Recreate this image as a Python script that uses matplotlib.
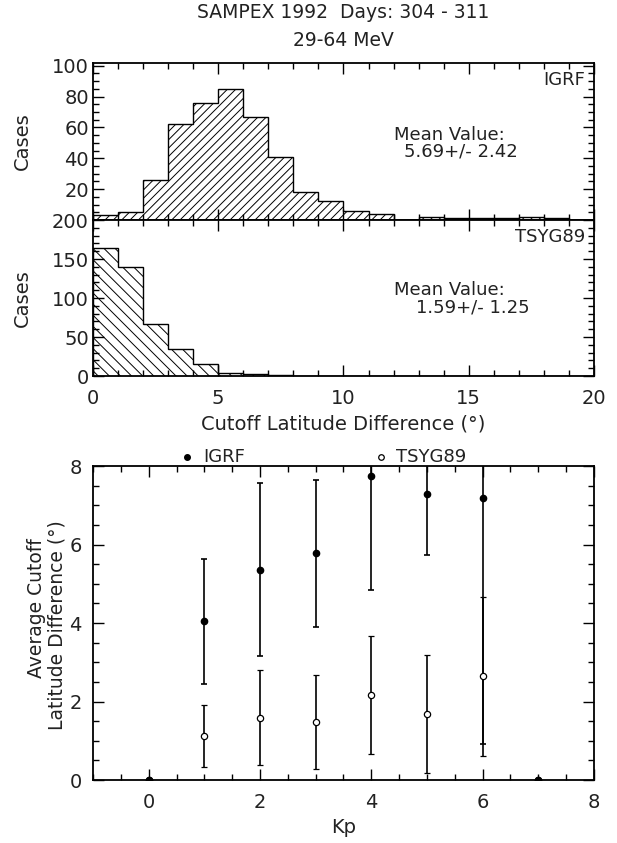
import matplotlib
matplotlib.use('Agg')
import matplotlib.pyplot as plt
import numpy as np
from matplotlib.ticker import MultipleLocator, NullFormatter

# histogram bins (degrees) and counts per bin
bin_edges = [0, 1, 2, 3, 4, 5, 6, 7, 8, 9, 10, 11, 12, 13, 14, 15, 16, 17, 18, 19, 20]
igrf_counts = [3, 5, 26, 62, 76, 85, 67, 41, 18, 12, 6, 4, 0, 2, 1, 1, 1, 2, 1, 0]
tsyg_counts = [164, 140, 67, 35, 15, 4, 2, 1, 0, 0, 0, 0, 0, 0, 0, 0, 0, 0, 0, 0]
igrf_mean_txt = '5.69+/- 2.42'
tsyg_mean_txt = '1.59+/- 1.25'

# average cutoff difference vs Kp
kp = [0, 1, 2, 3, 4, 5, 6, 7]
igrf_avg = [0, 4.04, 5.36, 5.78, 7.74, 7.28, 7.19, 0]
igrf_err = [0, 1.59, 2.21, 1.87, 2.90, 1.54, 6.27, 0]
tsyg_avg = [0, 1.12, 1.59, 1.48, 2.17, 1.68, 2.64, 0]
tsyg_err = [0, 0.79, 1.21, 1.20, 1.50, 1.50, 2.03, 0]

plt.rcParams['font.family'] = ['DejaVu Sans']
plt.rcParams['hatch.linewidth'] = 0.7
txt_color = '#222222'
W, H = 617.0, 843.0

fig = plt.figure(figsize=(6.17, 8.43), dpi=100)
ax1 = fig.add_axes([0.15073, 0.73903, 0.81199, 0.18660])
ax2 = fig.add_axes([0.15073, 0.55397, 0.81199, 0.18505])
ax3 = fig.add_axes([0.15073, 0.07473, 0.81199, 0.37248])


def style_axis(ax, pad):
    for s in ax.spines.values():
        s.set_linewidth(1.3)
    ax.tick_params(which='both', direction='in', top=True, right=True,
                   labelsize=14, labelcolor=txt_color, pad=pad)
    ax.tick_params(which='major', length=8, width=1)
    ax.tick_params(which='minor', length=4, width=1)


def pix_text(ax, x, y, s, **kw):
    # place text at a pixel position of the figure
    fig.text(x / W, 1 - y / H, s, color=txt_color, **kw)


# top histogram: IGRF
ax1.stairs(igrf_counts, bin_edges, fill=True, facecolor='white',
           edgecolor='black', hatch='////', linewidth=1)
ax1.set_xlim(0, 20)
ax1.set_ylim(0, 102)
ax1.xaxis.set_major_locator(MultipleLocator(5))
ax1.xaxis.set_minor_locator(MultipleLocator(1))
ax1.xaxis.set_major_formatter(NullFormatter())
ax1.yaxis.set_major_locator(MultipleLocator(20))
ax1.yaxis.set_minor_locator(MultipleLocator(5))
style_axis(ax1, 3)
ax1.set_yticks([20, 40, 60, 80, 100])
ax1.set_ylabel('Cases', fontsize=14, color=txt_color)
ax1.yaxis.set_label_coords(-0.122, 0.5)
ax1.text(0.982, 0.89, 'IGRF', transform=ax1.transAxes, ha='right',
         va='center', fontsize=13, color=txt_color)
pix_text(ax1, 394, 135, 'Mean Value:', ha='left', va='center', fontsize=13)
pix_text(ax1, 404, 152, igrf_mean_txt, ha='left', va='center', fontsize=13)

# middle histogram: TSYG89
ax2.stairs(tsyg_counts, bin_edges, fill=True, facecolor='white',
           edgecolor='black', hatch='\\\\\\', linewidth=1)
ax2.set_xlim(0, 20)
ax2.set_ylim(0, 200)
ax2.xaxis.set_major_locator(MultipleLocator(5))
ax2.xaxis.set_minor_locator(MultipleLocator(1))
ax2.yaxis.set_major_locator(MultipleLocator(50))
ax2.yaxis.set_minor_locator(MultipleLocator(10))
style_axis(ax2, 3)
ax2.tick_params(axis='x', pad=9)
ax2.set_ylabel('Cases', fontsize=14, color=txt_color)
ax2.yaxis.set_label_coords(-0.122, 0.5)
ax2.set_xlabel('Cutoff Latitude Difference (°)', fontsize=14,
               color=txt_color, labelpad=5)
ax2.text(0.982, 0.89, 'TSYG89', transform=ax2.transAxes, ha='right',
         va='center', fontsize=13, color=txt_color)
pix_text(ax2, 394, 290, 'Mean Value:', ha='left', va='center', fontsize=13)
pix_text(ax2, 416, 307, tsyg_mean_txt, ha='left', va='center', fontsize=13)

# bottom: average difference vs Kp
ax3.errorbar(kp, tsyg_avg, yerr=tsyg_err, fmt='o', mfc='white', mec='black',
             mew=0.9, ms=4.5, ecolor='black', elinewidth=1.2, capsize=2.2,
             capthick=1.2, color='black')
ax3.errorbar(kp, igrf_avg, yerr=igrf_err, fmt='o', mfc='black', mec='black',
             ms=4.5, ecolor='black', elinewidth=1.2, capsize=2.2,
             capthick=1.2, color='black')
ax3.set_xlim(-1, 8)
ax3.set_ylim(0, 8)
ax3.xaxis.set_major_locator(MultipleLocator(2))
ax3.xaxis.set_minor_locator(MultipleLocator(0.5))
ax3.yaxis.set_major_locator(MultipleLocator(2))
ax3.yaxis.set_minor_locator(MultipleLocator(0.5))
style_axis(ax3, 8)
ax3.tick_params(axis='x', pad=9)
ax3.set_xlabel('Kp', fontsize=14, color=txt_color, labelpad=5)
pix_text(ax3, 37, 608, 'Average Cutoff', rotation=90,
         ha='center', va='center', fontsize=13.5)
pix_text(ax3, 57, 625, 'Latitude Difference (°)', rotation=90,
         ha='center', va='center', fontsize=13.5)

# legend above the panel
ax3.plot([0.188], [1.029], 'o', mfc='black', mec='black', ms=4,
         transform=ax3.transAxes, clip_on=False)
ax3.text(0.22, 1.029, 'IGRF', transform=ax3.transAxes, ha='left',
         va='center', fontsize=13, color=txt_color)
ax3.plot([0.575], [1.029], 'o', mfc='white', mec='black', mew=0.9, ms=4,
         transform=ax3.transAxes, clip_on=False)
ax3.text(0.605, 1.029, 'TSYG89', transform=ax3.transAxes, ha='left',
         va='center', fontsize=13, color=txt_color)

pix_text(ax1, 343.5, 13, 'SAMPEX 1992  Days: 304 - 311',
         ha='center', va='center', fontsize=13.5)
pix_text(ax1, 343.5, 41, '29-64 MeV', ha='center', va='center',
         fontsize=13.5)

fig.savefig('out.png', dpi=100)
